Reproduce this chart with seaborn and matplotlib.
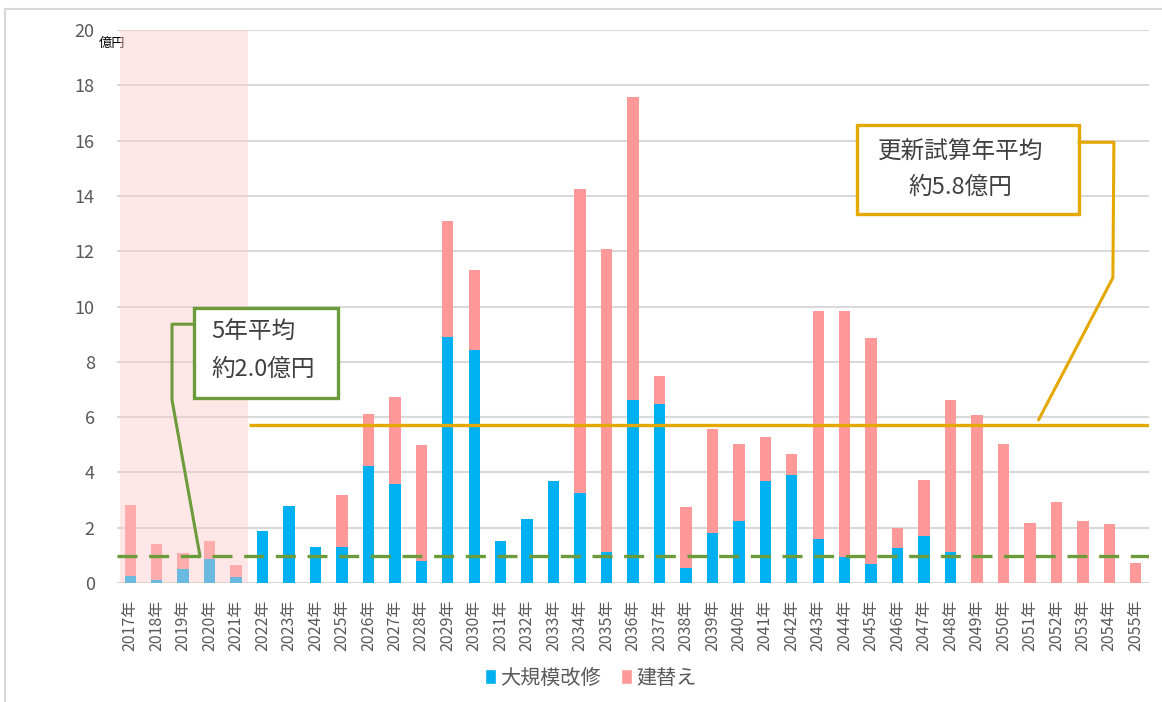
# 公共施設 更新費用の試算 (2017-2055)

import pandas as pd
import matplotlib.pyplot as plt
import seaborn as sns
from matplotlib.patches import Patch, Rectangle
from matplotlib.lines import Line2D

# data (億円)
years = [f'{y}年' for y in range(2017, 2056)]
renovation = [0.26, 0.12, 0.51, 0.87, 0.20, 1.88, 2.80, 1.31, 1.31, 4.24,
              3.58, 0.80, 8.90, 8.41, 1.53, 2.31, 3.69, 3.27, 1.12, 6.62,
              6.47, 0.55, 1.82, 2.24, 3.69, 3.90, 1.58, 0.94, 0.69, 1.26,
              1.71, 1.11, 0.00, 0.00, 0.00, 0.00, 0.00, 0.00, 0.00]
rebuild = [2.56, 1.29, 0.56, 0.66, 0.44, 0.00, 0.00, 0.00, 1.86, 1.87,
           3.15, 4.18, 4.19, 2.91, 0.00, 0.00, 0.00, 10.99, 10.97, 10.96,
           1.00, 2.21, 3.75, 2.78, 1.60, 0.76, 8.26, 8.90, 8.16, 0.72,
           2.00, 5.52, 6.06, 5.02, 2.16, 2.94, 2.24, 2.12, 0.72]
past_avg = 0.97      # 5年平均 line
future_avg = 5.72    # 更新試算年平均 line
past_years = 5

df = pd.DataFrame({'year': years, 'renovation': renovation, 'rebuild': rebuild})
df['total'] = df['renovation'] + df['rebuild']

BLUE = '#00B0F0'
PINK = '#FF9999'
ORANGE = '#E5A800'
GREEN = '#6B9B3A'
GRAY = '#595959'

sns.set_style('white')
plt.rcParams['font.family'] = ['Noto Sans CJK JP', 'DejaVu Sans']

fig = plt.figure(figsize=(11.62, 7.02), dpi=100)
ax = fig.add_axes([117 / 1162, 119 / 702, 1032 / 1162, 553 / 702])

sns.barplot(data=df, x='year', y='total', color=PINK, width=0.43,
            saturation=1, linewidth=0, ax=ax, zorder=2)
sns.barplot(data=df, x='year', y='renovation', color=BLUE, width=0.43,
            saturation=1, linewidth=0, ax=ax, zorder=3)

ax.set_xlim(-0.5, len(years) - 0.5)
ax.set_ylim(0, 20)
ax.set_yticks(range(0, 21, 2))
ax.grid(axis='y', color='#D9D9D9', linewidth=1.5, zorder=0)
ax.set_axisbelow(True)
sns.despine(ax=ax, left=True, bottom=True)
ax.set_xlabel('')
ax.set_ylabel('')
ax.tick_params(axis='y', length=0, pad=16, labelsize=13, labelcolor=GRAY)
ax.tick_params(axis='x', length=0, pad=12, labelsize=11.5, labelcolor=GRAY,
               rotation=90)

# shaded past period
ax.add_patch(Rectangle((-0.4, 0), past_years - 0.16, 20, facecolor=(1, 0.78, 0.78),
                       alpha=0.42, edgecolor='none', zorder=4))

# average lines
ax.axhline(past_avg, color=GREEN, linewidth=2.4, dashes=(6, 3.5), zorder=5)
ax.plot([past_years - 0.5, len(years) - 0.5], [future_avg, future_avg],
        color=ORANGE, linewidth=2.4, zorder=5, solid_capstyle='butt')

ax.text(-0.018, 0.975, '億円', transform=ax.transAxes, fontsize=9.5,
        color='black', ha='left', va='center')

# callout: 5年平均
ax.add_patch(Rectangle((0.0746, 0.3345), 0.1395, 0.1625, transform=ax.transAxes,
                       facecolor='white', edgecolor=GREEN, linewidth=2.4,
                       zorder=6, clip_on=False))
ax.plot([0.0746, 0.0533, 0.0533, 0.0804], [0.468, 0.468, 0.331, 0.0488],
        transform=ax.transAxes, color=GREEN, linewidth=2.2, zorder=6)
ax.text(0.0916, 0.453, '5年平均', transform=ax.transAxes, fontsize=17,
        color='#404040', ha='left', va='center', zorder=7)
ax.text(0.0916, 0.386, '約2.0億円', transform=ax.transAxes, fontsize=17,
        color='#404040', ha='left', va='center', zorder=7)

# callout: 更新試算年平均
ax.add_patch(Rectangle((0.717, 0.667), 0.215, 0.161, transform=ax.transAxes,
                       facecolor='white', edgecolor=ORANGE, linewidth=2.4,
                       zorder=6, clip_on=False))
ax.plot([0.932, 0.966, 0.965, 0.893], [0.797, 0.797, 0.552, 0.295],
        transform=ax.transAxes, color=ORANGE, linewidth=2.2, zorder=6)
ax.text(0.817, 0.779, '更新試算年平均', transform=ax.transAxes, fontsize=17,
        color='#404040', ha='center', va='center', zorder=7)
ax.text(0.817, 0.716, '約5.8億円', transform=ax.transAxes, fontsize=17,
        color='#404040', ha='center', va='center', zorder=7)

# legend
handles = [Patch(facecolor=BLUE), Patch(facecolor=PINK)]
fig.legend(handles, ['大規模改修', '建替え'], loc='center',
           bbox_to_anchor=(591 / 1162, 1 - 678 / 702), ncol=2, frameon=False,
           fontsize=14.5, handlelength=0.55, handleheight=0.8,
           handletextpad=0.2, columnspacing=1.0, labelcolor=GRAY)

# chart frame
fig.add_artist(Line2D([5 / 1162, 5 / 1162], [0, 1 - 9 / 702],
                      color='#D9D9D9', linewidth=1.5))
fig.add_artist(Line2D([5 / 1162, 1], [1 - 9 / 702, 1 - 9 / 702],
                      color='#D9D9D9', linewidth=1.5))

fig.savefig('out.png', dpi=100)
